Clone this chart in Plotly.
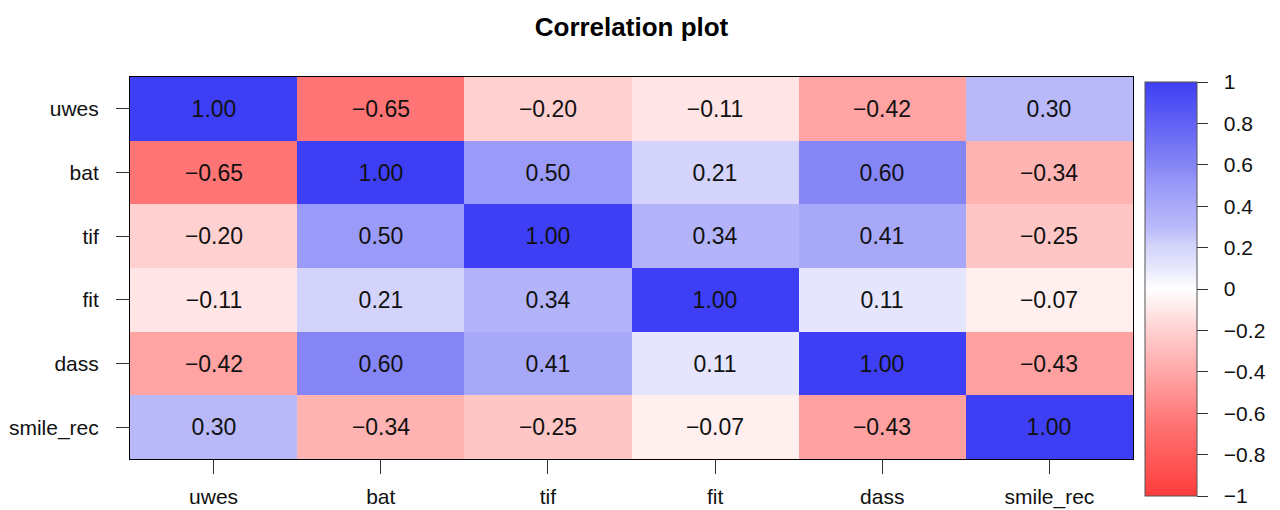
import plotly.graph_objects as go

variables = ["uwes", "bat", "tif", "fit", "dass", "smile_rec"]
row_uwes = [1.00, -0.65, -0.20, -0.11, -0.42, 0.30]
row_bat = [-0.65, 1.00, 0.50, 0.21, 0.60, -0.34]
row_tif = [-0.20, 0.50, 1.00, 0.34, 0.41, -0.25]
row_fit = [-0.11, 0.21, 0.34, 1.00, 0.11, -0.07]
row_dass = [-0.42, 0.60, 0.41, 0.11, 1.00, -0.43]
row_smile = [0.30, -0.34, -0.25, -0.07, -0.43, 1.00]
cbar_ticks = [1, 0.8, 0.6, 0.4, 0.2, 0, -0.2, -0.4, -0.6, -0.8, -1]

z = [row_uwes, row_bat, row_tif, row_fit, row_dass, row_smile]
text = [[f"{v:.2f}".replace("-", "\u2212") for v in r] for r in z]
cbar_text = ["\u00a0\u00a0" + f"{v:g}".replace("-", "\u2212") for v in cbar_ticks]

FONT = "Liberation Sans, Arial"

colorscale = [
    [0.0, "#ff3c3c"],
    [0.175, "#ff7474"],
    [0.29, "#ffa3a3"],
    [0.40, "#ffd0d0"],
    [0.5, "#ffffff"],
    [0.555, "#e5e5fd"],
    [0.605, "#d3d3fb"],
    [0.65, "#b9b9fa"],
    [0.75, "#9a9af8"],
    [0.80, "#8585f5"],
    [1.0, "#3e3ef5"],
]

fig = go.Figure(go.Heatmap(
    z=z, x=variables, y=variables,
    text=text, texttemplate="%{text}",
    textfont=dict(size=23, color="#111111", family=FONT),
    zmin=-1, zmax=1,
    colorscale=colorscale,
    xgap=0, ygap=0,
    colorbar=dict(
        x=1.012, xanchor="left", xref="paper",
        y=0.445, yanchor="middle",
        len=414, lenmode="pixels",
        thickness=52, thicknessmode="pixels",
        ypad=0, xpad=0,
        outlinewidth=1, outlinecolor="#555555",
        tickvals=cbar_ticks, ticktext=cbar_text,
        ticks="outside", ticklen=11, tickcolor="#333333",
        tickfont=dict(size=21, color="#111111", family=FONT),
    ),
))

fig.update_layout(
    width=1280, height=510,
    margin=dict(l=122, r=155, t=69, b=59, autoexpand=False),
    paper_bgcolor="white", plot_bgcolor="white",
    title=dict(text="<b>Correlation plot</b>", x=0.5, xref="paper", xanchor="center",
               y=0.963, yanchor="middle",
               font=dict(size=26, color="black", family=FONT)),
    font=dict(family=FONT, color="#111111"),
)
fig.update_xaxes(showline=True, mirror=True, linecolor="black", linewidth=1,
                 ticks="outside", ticklen=14, tickcolor="#333333",
                 ticklabelstandoff=5,
                 tickfont=dict(size=21), showgrid=False, zeroline=False)
fig.update_yaxes(autorange="reversed", showline=True, mirror=True, linecolor="black",
                 linewidth=1, ticks="outside", ticklen=13, tickcolor="#333333",
                 ticklabelstandoff=13,
                 tickfont=dict(size=21), showgrid=False, zeroline=False)

fig.write_html("out.html")
